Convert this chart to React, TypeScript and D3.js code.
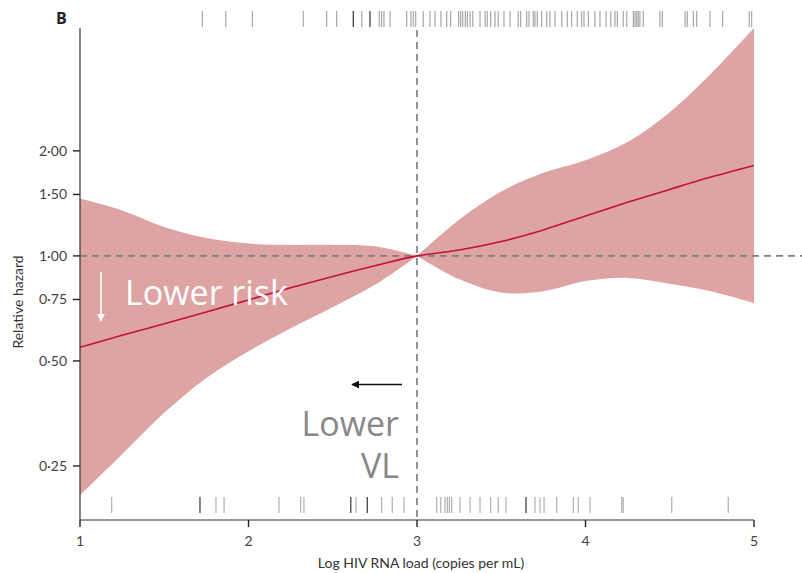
import React from "react";
import * as d3 from "d3";

const xGrid = [1.0, 1.25, 1.5, 1.75, 2.0, 2.25, 2.5, 2.75, 3.0, 3.25, 3.5, 3.75, 4.0, 4.25, 4.5, 4.75, 5.0];
const hazard = [0.547, 0.592, 0.639, 0.691, 0.748, 0.81, 0.873, 0.937, 1.0, 1.04, 1.1, 1.187, 1.302, 1.424, 1.551, 1.685, 1.816];
const upperCI = [1.46, 1.35, 1.21, 1.125, 1.085, 1.075, 1.075, 1.065, 1.0, 1.27, 1.53, 1.73, 1.88, 2.12, 2.58, 3.35, 4.5];
const lowerCI = [0.206, 0.27, 0.355, 0.447, 0.533, 0.62, 0.713, 0.826, 1.0, 0.858, 0.785, 0.792, 0.847, 0.865, 0.832, 0.79, 0.732];

const topRug = [1.726, 1.865, 2.023, 2.325, 2.464, 2.523, 2.672, 2.776, 2.79, 2.804, 2.84, 2.939, 2.964, 2.978, 2.992, 3.037, 3.077, 3.107, 3.142, 3.176, 3.2, 3.247, 3.259, 3.271, 3.287, 3.299, 3.315, 3.331, 3.374, 3.404, 3.417, 3.437, 3.463, 3.482, 3.516, 3.552, 3.601, 3.615, 3.651, 3.665, 3.69, 3.7, 3.714, 3.74, 3.77, 3.789, 3.819, 3.859, 3.892, 3.918, 3.951, 3.977, 3.991, 4.017, 4.056, 4.086, 4.122, 4.15, 4.175, 4.189, 4.224, 4.245, 4.284, 4.294, 4.304, 4.313, 4.323, 4.343, 4.442, 4.456, 4.591, 4.604, 4.64, 4.66, 4.739, 4.814, 4.972, 4.986];
const topRugDark = [2.622, 2.721];
const bottomRug = [1.188, 1.807, 1.855, 2.181, 2.31, 2.329, 2.638, 2.79, 2.853, 2.923, 3.117, 3.141, 3.166, 3.18, 3.192, 3.206, 3.255, 3.315, 3.374, 3.437, 3.482, 3.528, 3.7, 3.73, 3.754, 3.829, 3.928, 3.957, 4.027, 4.215, 4.224, 4.512, 4.847];
const bottomRugDark = [1.712, 2.607, 2.705, 3.647];

const yTicks = [0.25, 0.5, 0.75, 1.0, 1.5, 2.0];
const yTickLabels = ["0·25", "0·50", "0·75", "1·00", "1·50", "2·00"];
const xTicks = [1, 2, 3, 4, 5];
const xTickLabels = ["1", "2", "3", "4", "5"];

const W = 802;
const H = 573;

export default function App() {
  const x = d3.scaleLinear().domain([1, 5]).range([80, 754]);
  const y = d3.scaleLog().domain([0.175, 4.5]).range([520, 28]);

  const refIdx = xGrid.indexOf(3.0);
  const leftIdx = xGrid.map((_, i) => i).filter((i) => i <= refIdx);
  const rightIdx = xGrid.map((_, i) => i).filter((i) => i >= refIdx);
  const allIdx = xGrid.map((_, i) => i);

  const area = d3
    .area<number>()
    .x((i) => x(xGrid[i]))
    .y0((i) => y(lowerCI[i]))
    .y1((i) => y(upperCI[i]))
    .curve(d3.curveCatmullRom.alpha(0.5));
  const line = d3
    .line<number>()
    .x((i) => x(xGrid[i]))
    .y((i) => y(hazard[i]))
    .curve(d3.curveCatmullRom.alpha(0.5));

  const font = "'Open Sans', 'Noto Sans', sans-serif";
  const tickFont = "Lato, 'Open Sans', sans-serif";

  return (
    <svg
      width={W}
      height={H}
      style={{ position: "absolute", left: 0, top: 0, background: "#fff" }}
    >
      <defs>
        <marker id="arrowW" viewBox="0 0 10 10" refX="9" refY="5" markerWidth="5" markerHeight="5" orient="auto">
          <path d="M0,0 L10,5 L0,10 z" fill="#fff" />
        </marker>
        <marker id="arrowK" viewBox="0 0 10 10" refX="9" refY="5" markerWidth="5" markerHeight="5" orient="auto">
          <path d="M0,0 L10,5 L0,10 z" fill="#111" />
        </marker>
      </defs>

      <path d={area(leftIdx) || ""} fill="#dea3a3" />
      <path d={area(rightIdx) || ""} fill="#dea3a3" />

      {/* reference lines */}
      <line x1={x(1)} x2={W} y1={y(1)} y2={y(1)} stroke="#808080" strokeWidth={1.7} strokeDasharray="7,5" />
      <line x1={x(3)} x2={x(3)} y1={30} y2={520} stroke="#808080" strokeWidth={1.7} strokeDasharray="7,5" />

      <path d={line(allIdx) || ""} fill="none" stroke="#c2123c" strokeWidth={1.6} />

      {/* rugs */}
      {topRug.map((v, i) => (
        <line key={"t" + i} x1={x(v)} x2={x(v)} y1={11} y2={27} stroke="#a8a8a8" strokeWidth={1.2} />
      ))}
      {topRugDark.map((v, i) => (
        <line key={"td" + i} x1={x(v)} x2={x(v)} y1={11} y2={27} stroke="#444" strokeWidth={1.3} />
      ))}
      {bottomRug.map((v, i) => (
        <line key={"b" + i} x1={x(v)} x2={x(v)} y1={497} y2={513} stroke="#b0b0b0" strokeWidth={1.2} />
      ))}
      {bottomRugDark.map((v, i) => (
        <line key={"bd" + i} x1={x(v)} x2={x(v)} y1={497} y2={513} stroke="#444" strokeWidth={1.3} />
      ))}

      {/* y axis */}
      <line x1={80} x2={80} y1={28} y2={520} stroke="#333" strokeWidth={1.2} />
      {yTicks.map((t, i) => (
        <g key={"yt" + i}>
          <line x1={73} x2={80} y1={y(t)} y2={y(t)} stroke="#222" strokeWidth={1.4} />
          <text x={67} y={y(t)} dy="0.35em" textAnchor="end" fontFamily={tickFont} fontSize={14} fill="#444">
            {yTickLabels[i]}
          </text>
        </g>
      ))}
      <text
        transform={`translate(23, ${302}) rotate(-90)`}
        textAnchor="middle"
        fontFamily={tickFont}
        fontSize={14}
        fill="#333"
      >
        Relative hazard
      </text>

      {/* x axis */}
      <line x1={80} x2={754} y1={520} y2={520} stroke="#333" strokeWidth={1.2} />
      {xTicks.map((t, i) => (
        <g key={"xt" + i}>
          <line x1={x(t)} x2={x(t)} y1={520} y2={527} stroke="#222" strokeWidth={1.4} />
          <text x={x(t)} y={546} textAnchor="middle" fontFamily={tickFont} fontSize={14} fill="#444">
            {xTickLabels[i]}
          </text>
        </g>
      ))}
      <text x={421} y={568} textAnchor="middle" fontFamily={tickFont} fontSize={14} fill="#333">
        Log HIV RNA load (copies per mL)
      </text>

      {/* panel label */}
      <text x={56} y={24} fontFamily={font} fontSize={16} fontWeight="bold" fill="#222">
        B
      </text>

      {/* annotations */}
      <line x1={101} x2={101} y1={272} y2={321} stroke="#fff" strokeWidth={1.6} markerEnd="url(#arrowW)" />
      <text x={125} y={305} fontFamily={font} fontSize={34} fill="#fff">
        Lower risk
      </text>
      <line x1={402} x2={352} y1={384.5} y2={384.5} stroke="#111" strokeWidth={1.6} markerEnd="url(#arrowK)" />
      <text x={399} y={436} textAnchor="end" fontFamily={font} fontSize={34} fill="#888">
        Lower
      </text>
      <text x={399} y={478} textAnchor="end" fontFamily={font} fontSize={34} fill="#888">
        VL
      </text>
    </svg>
  );
}
